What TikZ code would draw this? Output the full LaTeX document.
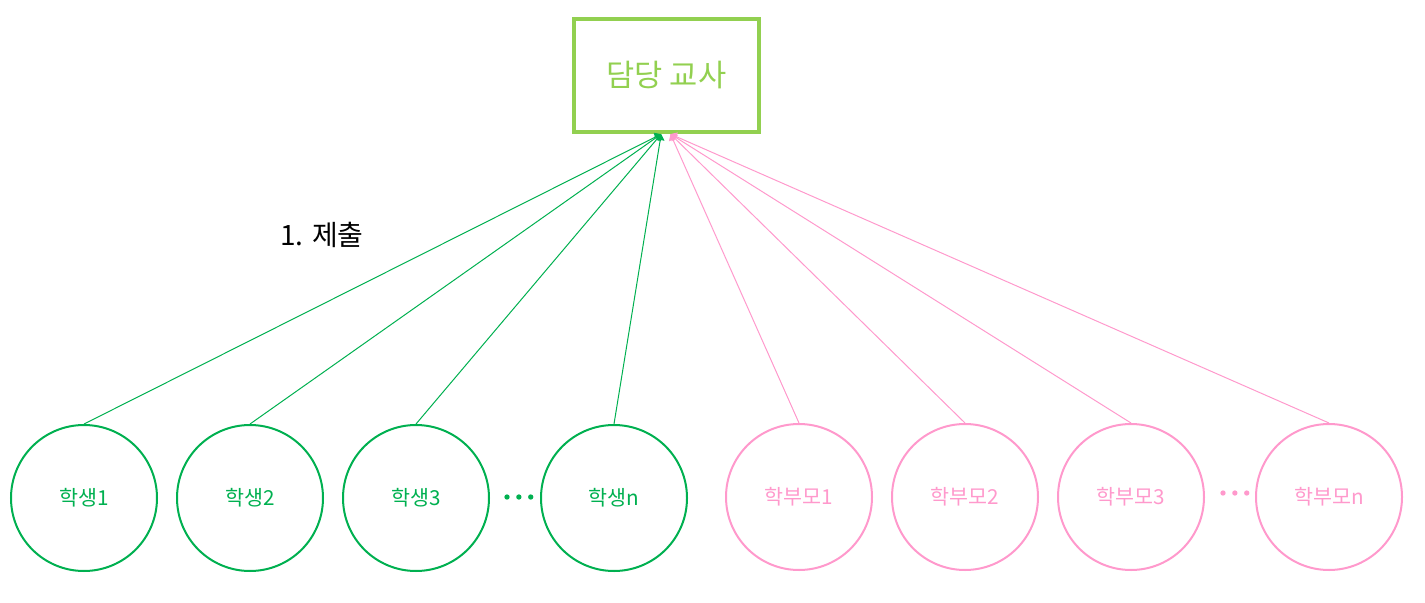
\documentclass[tikz,border=0pt]{standalone}
\usepackage{fontspec}
\setmainfont{Noto Sans CJK KR}
\usetikzlibrary{arrows.meta,positioning}
\definecolor{boxgreen}{HTML}{92D050}
\definecolor{stugreen}{HTML}{00B050}
\definecolor{parpink}{HTML}{FF99CC}
\tikzset{
	teacher/.style={draw=boxgreen,line width=3.4pt,rectangle,minimum width=138.5pt,minimum height=84.5pt,text=boxgreen,font=\fontsize{23}{27}\selectfont},
	student/.style={draw=stugreen,line width=1.5pt,circle,minimum size=109.5pt,inner sep=0pt,text=stugreen,font=\fontsize{15.5}{18}\selectfont},
	parent/.style={draw=parpink,line width=1.5pt,circle,minimum size=109.5pt,inner sep=0pt,text=parpink,font=\fontsize{15.5}{18}\selectfont},
	dot/.style={circle,inner sep=0pt,minimum size=4pt},
	tip/.style={-{Triangle[width=6.5pt,length=4.5pt]}}
}
\begin{document}
\begin{tikzpicture}[x=0.75pt,y=-0.75pt]
	\useasboundingbox (0,0) rectangle (1425,603);
	\node[teacher] (tea) at (666.5,75.5) {담당 교사};
	\node[student] (s1) at (84,498) {학생1};
	\node[student] (s2) at (250,498) {학생2};
	\node[student] (s3) at (416,498) {학생3};
	\node[student] (sn) at (614,498) {학생n};
	\node[parent] (p1) at (799,497) {학부모1};
	\node[parent] (p2) at (965,497) {학부모2};
	\node[parent] (p3) at (1131,497) {학부모3};
	\node[parent] (pn) at (1329,497) {학부모n};
	\node[dot,fill=stugreen] (sd1) at (507,497) {};
	\node[dot,fill=stugreen,right=4.5pt of sd1] (sd2) {};
	\node[dot,fill=stugreen,right=4.5pt of sd2] (sd3) {};
	\node[dot,fill=parpink] (pd1) at (1223,493) {};
	\node[dot,fill=parpink,right=4.5pt of pd1] (pd2) {};
	\node[dot,fill=parpink,right=4.5pt of pd2] (pd3) {};
	\node[font=\fontsize{21}{25}\selectfont] (sub) at (322,235) {1. 제출};
	% students
	\draw[tip,stugreen,line width=0.75pt] (s1.north) -- ([xshift=-4pt]tea.south);
	\draw[tip,stugreen,line width=0.75pt] (s2.north) -- ([xshift=-4pt]tea.south);
	\draw[tip,stugreen,line width=0.75pt] (s3.north) -- ([xshift=-4pt]tea.south);
	\draw[tip,stugreen,line width=0.75pt] (sn.north) -- ([xshift=-4pt]tea.south);
	% parents
	\draw[tip,parpink,line width=0.75pt] (p1.north) -- ([xshift=3pt]tea.south);
	\draw[tip,parpink,line width=0.75pt] (p2.north) -- ([xshift=3pt]tea.south);
	\draw[tip,parpink,line width=0.75pt] (p3.north) -- ([xshift=3pt]tea.south);
	\draw[tip,parpink,line width=0.75pt] (pn.north) -- ([xshift=3pt]tea.south);
\end{tikzpicture}
\end{document}
